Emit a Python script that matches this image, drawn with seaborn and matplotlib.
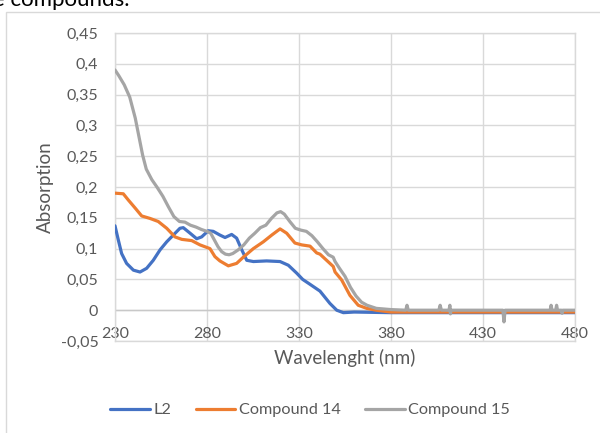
import numpy as np
import pandas as pd
import matplotlib
matplotlib.use('Agg')
import matplotlib.pyplot as plt
from matplotlib.ticker import FuncFormatter, MultipleLocator
from matplotlib.patches import Rectangle
import seaborn as sns

# ---------------- data ----------------
wl_l2 = [230, 231.8, 233.6, 236.3, 240, 243.6, 247.2, 250.8, 254.5, 258.1, 261.7, 265.3,
         267.1, 270.8, 274.4, 277.1, 280.7, 283.4, 287, 289.8, 293.4, 296.1, 298.9, 301.6,
         305.2, 312.4, 319.7, 324.2, 328.8, 332, 336, 341.4, 346.8, 350.5, 354.1, 360, 380,
         420, 480]
abs_l2 = [0.137, 0.114, 0.092, 0.076, 0.065, 0.062, 0.068, 0.081, 0.098, 0.111, 0.122, 0.133,
          0.134, 0.125, 0.116, 0.119, 0.129, 0.128, 0.122, 0.118, 0.123, 0.117, 0.098, 0.081,
          0.079, 0.080, 0.079, 0.073, 0.060, 0.050, 0.042, 0.031, 0.011, 0.000, -0.004, -0.003,
          -0.004, -0.004, -0.004]

wl_c14 = [230, 234.5, 237.2, 240.9, 244.5, 249, 253.5, 258.1, 262.6, 266.3, 271.7, 276.2,
          279.8, 281.6, 284.3, 287, 291.6, 296.1, 299.7, 305.2, 310.6, 315.2, 319.7, 323.3,
          327.8, 331.5, 336, 339.6, 341.4, 346.8, 348.6, 349.6, 353.2, 357.7, 362.2, 366.8,
          372, 380, 420, 480]
abs_c14 = [0.190, 0.189, 0.179, 0.166, 0.153, 0.149, 0.144, 0.133, 0.119, 0.115, 0.113, 0.106,
           0.102, 0.100, 0.087, 0.080, 0.072, 0.076, 0.086, 0.100, 0.111, 0.122, 0.132, 0.125,
           0.109, 0.106, 0.104, 0.093, 0.091, 0.076, 0.071, 0.062, 0.049, 0.024, 0.008, 0.003,
           0.000, -0.003, -0.003, -0.003]

wl_c15 = [230, 232, 235, 238, 241, 243, 245, 247, 250, 253, 256, 259, 262, 265, 268, 271, 274,
          277, 280, 282, 284, 286, 288, 290, 292, 294, 297, 300, 303, 306, 309, 312, 315, 318,
          320, 322, 325, 328, 331, 334, 337, 340, 343, 346, 348.6, 349.6, 352, 355, 358, 361,
          364, 367, 372, 380, 388, 388.7, 389.4, 406, 406.7, 407.4, 411.5, 412, 412.3, 412.6,
          440.8, 441.4, 442, 466.5, 467, 467.5, 469.5, 470, 470.5, 472.6, 473, 473.4, 480]
abs_c15 = [0.390, 0.381, 0.366, 0.346, 0.312, 0.282, 0.252, 0.229, 0.212, 0.199, 0.185, 0.168,
           0.152, 0.144, 0.143, 0.138, 0.135, 0.131, 0.128, 0.125, 0.114, 0.103, 0.095, 0.091,
           0.090, 0.092, 0.098, 0.106, 0.117, 0.125, 0.134, 0.138, 0.149, 0.158, 0.160, 0.156,
           0.144, 0.133, 0.130, 0.128, 0.121, 0.111, 0.100, 0.090, 0.086, 0.079, 0.068, 0.055,
           0.037, 0.023, 0.013, 0.008, 0.003, 0.001, 0.000, 0.008, 0.000, 0.000, 0.008, 0.000,
           0.000, 0.008, -0.006, 0.000, 0.000, -0.019, 0.000, 0.000, 0.008, 0.000, 0.000, 0.008,
           0.000, 0.000, -0.005, 0.000, 0.000]

series_names = ['L2', 'Compound 14', 'Compound 15']
series_colors = ['#4472C4', '#ED7D31', '#A5A5A5']
x_ticks = [230, 280, 330, 380, 430, 480]

# ---------------- style ----------------
sns.set_theme(style='white')
plt.rcParams['font.family'] = ['Lato', 'DejaVu Sans']
txt_col = '#595959'
grid_col = '#D9D9D9'

fig = plt.figure(figsize=(6, 4.33), dpi=100)
ax = fig.add_axes([115/600, 1 - 341/433, 460/600, 308/433])

# outer chart frame (partly cut off, as in the screenshot)
fig.patches.append(Rectangle((6/600, -0.1), 1.2, 1.1 - 12/433, transform=fig.transFigure,
                             fill=False, edgecolor=grid_col, lw=1))
# caption text cut off at the top
fig.text(-0.012, 1 - 5.5/433, 'e compounds.', fontsize=16, color='black', va='baseline')

for wl, ab, name, col in zip([wl_l2, wl_c14, wl_c15], [abs_l2, abs_c14, abs_c15],
                             series_names, series_colors):
    sns.lineplot(x=wl, y=ab, ax=ax, color=col, lw=2.3, label=name, zorder=3)

ax.set_xlim(230, 480)
ax.set_ylim(-0.05, 0.45)
ax.set_xticks(x_ticks)
ax.yaxis.set_major_locator(MultipleLocator(0.05))
ax.yaxis.set_major_formatter(FuncFormatter(lambda v, p: f'{round(v, 2):g}'.replace('.', ',')))
ax.grid(True, color=grid_col, lw=1)
ax.axhline(0, color='#C8C8C8', lw=1, zorder=2)
for s in ax.spines.values():
    s.set_color(grid_col)
    s.set_linewidth(1)
ax.tick_params(axis='both', length=0, labelsize=11.5, labelcolor=txt_col)
ax.tick_params(axis='y', pad=12)
ax.tick_params(axis='x', pad=-10)

ax.set_xlabel('Wavelenght (nm)', fontsize=13.5, color=txt_col, labelpad=5.5)
ax.set_ylabel('Absorption', fontsize=13.5, color=txt_col, labelpad=5)

ax.get_legend().remove()
handles, labels = ax.get_legend_handles_labels()
fig.legend(handles, labels, loc='center', bbox_to_anchor=(310/600, 1 - 410/433), ncol=3,
           frameon=False, fontsize=11.7, labelcolor=txt_col, handlelength=2.45,
           handletextpad=0.2, columnspacing=1.5)

fig.savefig('out.png', dpi=100)
